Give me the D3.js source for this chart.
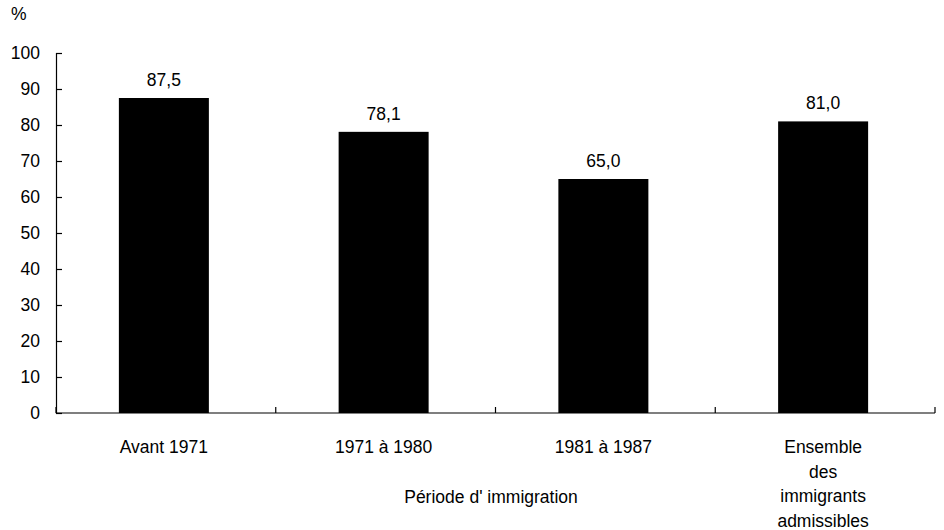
<!DOCTYPE html>
<html>
<head>
<meta charset="utf-8">
<script src="https://cdn.jsdelivr.net/npm/d3@7"></script>
<style>
  body { margin: 0; background: #fff; }
  svg text { font-family: "Liberation Sans", Arial, sans-serif; fill: #000; }
</style>
</head>
<body>
<div id="chart"></div>
<script>
// Data
const categories = ['Avant 1971', '1971 à 1980', '1981 à 1987', 'Ensemble des immigrants admissibles']
const categoryLines = [['Avant 1971'], ['1971 à 1980'], ['1981 à 1987'], ['Ensemble', 'des', 'immigrants', 'admissibles']]
const values = [87.5, 78.1, 65.0, 81.0]
const yTicks = [0, 10, 20, 30, 40, 50, 60, 70, 80, 90, 100]

const width = 944
const height = 530
const plot = { left: 56, right: 935, top: 53, bottom: 413 }
const fontSize = 17.5

const svg = d3.select('#chart')
    .append('svg')
    .attr('width', width)
    .attr('height', height)

const x = d3.scaleBand()
    .domain(categories)
    .range([plot.left, plot.right])
    .paddingInner(0)
    .paddingOuter(0)

const y = d3.scaleLinear()
    .domain([0, 100])
    .range([plot.bottom, plot.top])

const barWidth = 90

// Bars
svg.selectAll('.bar')
    .data(values)
    .enter()
    .append('rect')
    .attr('class', 'bar')
    .attr('x', (d, i) => x(categories[i]) + x.bandwidth() / 2 - barWidth / 2 - 2)
    .attr('y', d => y(d))
    .attr('width', barWidth)
    .attr('height', d => y(0) - y(d))
    .attr('fill', '#000')

// Value labels
svg.selectAll('.value')
    .data(values)
    .enter()
    .append('text')
    .attr('class', 'value')
    .attr('x', (d, i) => x(categories[i]) + x.bandwidth() / 2 - 2)
    .attr('y', d => y(d) - 12)
    .attr('text-anchor', 'middle')
    .style('font-size', fontSize + 'px')
    .text(d => d.toFixed(1).replace('.', ','))

// Y axis
const yAxis = d3.axisLeft(y)
    .tickValues(yTicks)
    .tickSize(-6)
    .tickSizeOuter(-6)
    .tickPadding(16)
const gy = svg.append('g')
    .attr('transform', 'translate(' + plot.left + ',0)')
    .call(yAxis)
gy.selectAll('text').style('font-size', fontSize + 'px').attr('font-family', null)
gy.select('.domain').attr('stroke', '#000').attr('stroke-width', 1.2)
gy.selectAll('.tick line').attr('stroke', '#000').attr('stroke-width', 1.2)

// X axis: tick marks at category boundaries pointing up
const boundaries = categories.map(c => x(c)).concat([plot.right])
svg.append('line')
    .attr('x1', plot.left).attr('x2', plot.right)
    .attr('y1', y(0)).attr('y2', y(0))
    .attr('stroke', '#000').attr('stroke-width', 1.2)
svg.selectAll('.xtick')
    .data(boundaries)
    .enter()
    .append('line')
    .attr('class', 'xtick')
    .attr('x1', d => d).attr('x2', d => d)
    .attr('y1', y(0)).attr('y2', y(0) - 6)
    .attr('stroke', '#000').attr('stroke-width', 1.2)

// Category labels
const catGroups = svg.selectAll('.cat')
    .data(categoryLines)
    .enter()
    .append('text')
    .attr('class', 'cat')
    .attr('text-anchor', 'middle')
    .style('font-size', fontSize + 'px')
catGroups.each(function (lines, i) {
    const cx = x(categories[i]) + x.bandwidth() / 2 - 2
    d3.select(this).selectAll('tspan')
        .data(lines)
        .enter()
        .append('tspan')
        .attr('x', cx)
        .attr('y', (d, j) => 453 + j * 24.7)
        .text(d => d)
})

// Axis title
svg.append('text')
    .attr('x', 491)
    .attr('y', 503)
    .attr('text-anchor', 'middle')
    .style('font-size', fontSize + 'px')
    .text('Période d\' immigration')

// Unit label
svg.append('text')
    .attr('x', 11)
    .attr('y', 20)
    .style('font-size', fontSize + 'px')
    .text('%')
</script>
</body>
</html>
